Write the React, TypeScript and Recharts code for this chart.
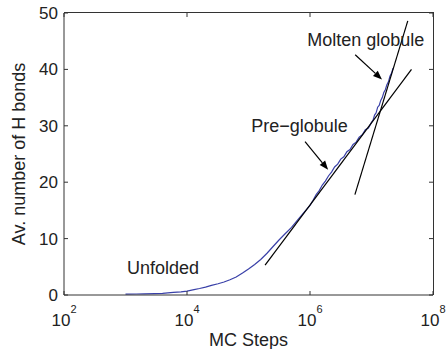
import React from "react";
import {
  LineChart,
  Line,
  XAxis,
  YAxis,
  ReferenceLine,
  ReferenceDot,
} from "recharts";

// averaged H-bond count vs Monte Carlo steps
const mcSteps = [
  1000, 1500, 2000, 3000, 4000, 6000, 8000, 10000, 13000, 16000, 20000, 25000,
  32000, 40000, 50000, 63000, 80000, 100000, 126000, 158000, 200000, 251000,
  316000, 398000, 501000, 631000, 794000, 1000000, 1122000, 1259000, 1413000,
  1585000, 1778000, 1995000, 2239000, 2512000, 2818000, 3162000, 3548000,
  3981000, 4467000, 5012000, 5623000, 6310000, 7079000, 7943000, 8913000,
  10000000, 10590000, 11220000, 11890000, 12590000, 13340000, 14130000,
  14960000, 15850000, 16790000, 17780000, 18840000, 19950000, 21130000,
  22390000,
];
const hBonds = [
  0.15, 0.18, 0.2, 0.25, 0.3, 0.45, 0.55, 0.7, 0.95, 1.15, 1.4, 1.7, 2.0, 2.3,
  2.7, 3.2, 3.9, 4.6, 5.4, 6.3, 7.4, 8.6, 9.8, 10.9, 12.0, 13.3, 14.6, 15.9,
  16.8, 17.8, 18.5, 19.5, 20.2, 21.1, 21.8, 22.7, 23.2, 24.1, 24.5, 25.4, 25.8,
  26.7, 27.1, 28.0, 28.4, 29.3, 29.6, 30.6, 31.0, 31.9, 32.3, 33.3, 33.6, 34.5,
  35.0, 35.9, 36.4, 37.3, 37.8, 38.8, 39.3, 40.2,
];

// straight fits
const preFitSteps = [186000, 44700000];
const preFitBonds = [5.3, 40.0];
const moltenFitSteps = [5370000, 38900000];
const moltenFitBonds = [17.8, 48.6];

const xTicks = [1e2, 1e4, 1e6, 1e8];
const yTicks = [0, 10, 20, 30, 40, 50];

const labelTexts = ["Molten globule", "Pre−globule", "Unfolded"];
const labelSteps = [8.05e6, 6.76e5, 4080];
const labelBonds = [44.1, 28.9, 3.7];

const arrowFromSteps = [5.43e6, 8.3e5];
const arrowFromBonds = [42.6, 27.2];
const arrowToSteps = [1.48e7, 1.97e6];
const arrowToBonds = [38.2, 22.2];

const curve = mcSteps.map((x, i) => ({ x, y: hBonds[i] }));
const preFit = preFitSteps.map((x, i) => ({ x, y: preFitBonds[i] }));
const moltenFit = moltenFitSteps.map((x, i) => ({ x, y: moltenFitBonds[i] }));

// layout
const W = 446;
const H = 349;
const M_TOP = 13;
const M_RIGHT = 13;
const Y_AXIS_W = 64;
const X_AXIS_H = 54;
const PLOT_W = W - Y_AXIS_W - M_RIGHT;
const PLOT_H = H - M_TOP - X_AXIS_H;

const FONT = "'Liberation Sans', Arial, Helvetica, sans-serif";
const AXIS = "#333";
const TEXT = "#222";

// bottom ticks also draw the mirrored top ticks
const BottomTick = (p: any) => {
  const { x, y, payload } = p;
  const exp = Math.round(Math.log10(payload.value));
  const top = y - PLOT_H;
  return (
    <g>
      <line x1={x} y1={y} x2={x} y2={y - 4} stroke={AXIS} />
      <line x1={x} y1={top} x2={x} y2={top + 4} stroke={AXIS} />
      <text x={x} y={y + 31} textAnchor="middle" fontSize={17} fill={TEXT} fontFamily={FONT}>
        10
        <tspan dy={-13} fontSize={11}>
          {exp}
        </tspan>
      </text>
    </g>
  );
};

// left ticks also draw the mirrored right ticks
const LeftTick = (p: any) => {
  const { x, y, payload } = p;
  const right = x + PLOT_W;
  return (
    <g>
      <line x1={x} y1={y} x2={x + 4} y2={y} stroke={AXIS} />
      <line x1={right} y1={y} x2={right - 4} y2={y} stroke={AXIS} />
      <text x={x - 6} y={y + 6} textAnchor="end" fontSize={17} fill={TEXT} fontFamily={FONT}>
        {payload.value}
      </text>
    </g>
  );
};

const Arrow = (p: any) => {
  const { x1, y1, x2, y2 } = p;
  const a = Math.atan2(y2 - y1, x2 - x1);
  const len = 9;
  const w = 3.5;
  const bx = x2 - len * Math.cos(a);
  const by = y2 - len * Math.sin(a);
  const pts = [
    `${x2},${y2}`,
    `${bx + w * Math.sin(a)},${by - w * Math.cos(a)}`,
    `${bx - w * Math.sin(a)},${by + w * Math.cos(a)}`,
  ].join(" ");
  return (
    <g>
      <line x1={x1} y1={y1} x2={bx} y2={by} stroke="#000" strokeWidth={1.2} />
      <polygon points={pts} fill="#000" />
    </g>
  );
};

export default function App() {
  return (
    <div style={{ position: "absolute", left: 0, top: 0, width: W, height: H, background: "#fff" }}>
      <LineChart width={W} height={H} margin={{ top: M_TOP, right: M_RIGHT, bottom: 0, left: 0 }}>
        <XAxis
          dataKey="x"
          type="number"
          scale="log"
          domain={[1e2, 1e8]}
          ticks={xTicks}
          interval={0}
          allowDataOverflow
          height={X_AXIS_H}
          tickSize={0}
          tickMargin={0}
          tickLine={false}
          axisLine={{ stroke: AXIS }}
          tick={<BottomTick />}
          label={{
            content: (lp: any) => {
              const vb = lp.viewBox;
              return (
                <text x={vb.x + vb.width / 2} y={vb.y + 51} textAnchor="middle" fontSize={18} fill={TEXT} fontFamily={FONT}>
                  MC Steps
                </text>
              );
            },
          }}
        />
        <YAxis
          type="number"
          domain={[0, 50]}
          ticks={yTicks}
          interval={0}
          allowDataOverflow
          width={Y_AXIS_W}
          tickSize={0}
          tickMargin={0}
          tickLine={false}
          axisLine={{ stroke: AXIS }}
          tick={<LeftTick />}
          label={{
            content: (lp: any) => {
              const vb = lp.viewBox;
              const cx = 25;
              const cy = vb.y + vb.height / 2;
              return (
                <text x={cx} y={cy} transform={`rotate(-90, ${cx}, ${cy})`} textAnchor="middle" fontSize={18} fill={TEXT} fontFamily={FONT}>
                  Av. number of H bonds
                </text>
              );
            },
          }}
        />
        <Line
          data={curve}
          dataKey="y"
          stroke="#3940a8"
          strokeWidth={1.2}
          dot={false}
          isAnimationActive={false}
        />
        <Line
          data={preFit}
          dataKey="y"
          stroke="#000"
          strokeWidth={1.2}
          dot={false}
          isAnimationActive={false}
        />
        <Line
          data={moltenFit}
          dataKey="y"
          stroke="#000"
          strokeWidth={1.2}
          dot={false}
          isAnimationActive={false}
        />
        {arrowFromSteps.map((s, i) => (
          <ReferenceLine
            key={`arrow-${i}`}
            segment={[
              { x: s, y: arrowFromBonds[i] },
              { x: arrowToSteps[i], y: arrowToBonds[i] },
            ]}
            shape={Arrow}
          />
        ))}
        {labelTexts.map((t, i) => (
          <ReferenceDot
            key={`label-${i}`}
            x={labelSteps[i]}
            y={labelBonds[i]}
            shape={(p: any) => (
              <text x={p.cx} y={p.cy} textAnchor="middle" fontSize={18} fill={TEXT} fontFamily={FONT}>
                {t}
              </text>
            )}
          />
        ))}
      </LineChart>
      {/* top and right edges of the plot box */}
      <div
        style={{
          position: "absolute",
          left: Y_AXIS_W,
          top: M_TOP - 1,
          width: PLOT_W + 1,
          height: PLOT_H + 1,
          boxSizing: "border-box",
          borderTop: `1px solid ${AXIS}`,
          borderRight: `1px solid ${AXIS}`,
          pointerEvents: "none",
        }}
      />
    </div>
  );
}
